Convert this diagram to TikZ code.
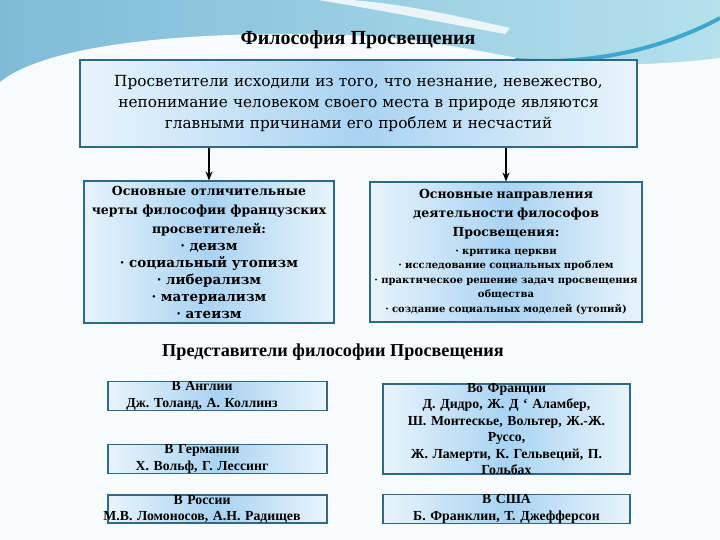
\documentclass[tikz,border=0pt]{standalone}
\usepackage{fontspec}
\setmainfont{Liberation Serif}
\newfontfamily\boxfont{DejaVu Serif}
\usetikzlibrary{arrows.meta,calc,positioning}
\frenchspacing

\definecolor{boxline}{HTML}{2E6A88}
\definecolor{boxmid}{HTML}{A9D3F2}
\definecolor{boxside}{HTML}{E8F4FC}
\definecolor{skyblue}{HTML}{7FBBD8}
\definecolor{skylight}{HTML}{B4E1EC}
\definecolor{wavedark}{HTML}{3FA6CC}
\definecolor{paper}{HTML}{F8FBFD}

\newcommand\tophead{\boxfont\fontsize{15.3}{21}\selectfont}
\newcommand\lefthead{\boxfont\bfseries\fontsize{12.5}{19}\selectfont}
\newcommand\leftitem{\boxfont\bfseries\fontsize{13.5}{17}\selectfont}
\newcommand\righthead{\boxfont\bfseries\fontsize{12.5}{19}\selectfont}
\newcommand\rightitem{\boxfont\bfseries\fontsize{10}{14.5}\selectfont}
\newcommand\shl{\hspace*{-31pt}}

\tikzset{
  infobox/.style={draw=boxline, line width=1.1pt, left color=boxside, right color=boxside,
    middle color=boxmid, align=center, inner sep=0pt},
  namebox/.style={infobox, text width=#1, font=\bfseries\fontsize{13.8}{16.5}\selectfont},
  flow/.style={line width=2pt, -{Stealth[length=9pt,width=7pt]}},
}

\begin{document}
\begin{tikzpicture}[x=1pt,y=-1pt]
\useasboundingbox (0,0) rectangle (720,540);
\fill[paper] (0,0) rectangle (720,540);
\shade[left color=skyblue, right color=skylight] (0,0) rectangle (720,85);
\fill[paper] (0,82) .. controls (40,50) and (150,32) .. (320,34) .. controls (420,36) and (480,52) .. (540,62) .. controls (620,68) and (690,62) .. (720,58) -- (720,540) -- (0,540) -- cycle;
\fill[white, opacity=.8] (318,0) .. controls (380,10) and (440,22) .. (505,34) -- (510,28) .. controls (440,12) and (400,4) .. (352,0) -- cycle;
\draw[wavedark, line width=4pt] (515,60) .. controls (600,66) and (670,45) .. (720,18);

\node[font=\bfseries\fontsize{20}{24}\selectfont] (title) at (358,40) {Философия Просвещения};

\node[infobox, minimum width=557, minimum height=87, text width=545, font=\tophead] (topbox) at (358.5,103.5)
  {Просветители исходили из того, что незнание, невежество,\\ непонимание человеком своего места в природе являются\\ главными причинами его проблем и несчастий};

\node[infobox, minimum width=250, minimum height=142, text width=246, font=\leftitem] (leftbox) at (209,252)
  {\lefthead Основные отличительные\\ черты философии французских\\ просветителей:\\
   \leftitem · деизм\\ · социальный утопизм\\ · либерализм\\ · материализм\\ · атеизм};

\node[infobox, minimum width=258, minimum height=140, text width=272, font=\rightitem] (rightbox) at (506,252)
  {\righthead Основные направления\\ деятельности философов\\ Просвещения:\\[3pt]
   \rightitem · критика церкви\\ · исследование социальных проблем\\ · практическое решение задач просвещения\\ общества\\ · создание социальных моделей (утопий)};

\draw[flow] (topbox.south -| leftbox.north) -- (leftbox.north);
\draw[flow] (topbox.south -| rightbox.north) -- (rightbox.north);

\node[font=\bfseries\fontsize{18.2}{21}\selectfont] (repr) at (333,352) {Представители философии Просвещения};

\node[namebox=219, minimum width=219, minimum height=29] (eng) at (217.5,396) {\shl В Англии\\ \shl Дж. Толанд, А. Коллинз};
\node[namebox=219, minimum width=219, minimum height=28] (ger) at (217.5,459) {\shl В Германии\\ \shl Х. Вольф, Г. Лессинг};
\node[namebox=219, minimum width=219, minimum height=28] (rus) at (217.5,509) {\shl В России\\ \shl М.В. Ломоносов, А.Н. Радищев};
\node[namebox=247, minimum width=247, minimum height=90, inner ysep=-3pt] (fra) at (506.5,429)
  {Во Франции\\ Д. Дидро, Ж. Д ‘ Аламбер,\\ Ш. Монтескье, Вольтер, Ж.-Ж.\\ Руссо,\\ Ж. Ламерти, К. Гельвеций, П.\\ Гольбах};
\node[namebox=247, minimum width=247, minimum height=28] (usa) at (506.5,509) {В США\\ Б. Франклин, Т. Джефферсон};
\end{tikzpicture}
\end{document}
